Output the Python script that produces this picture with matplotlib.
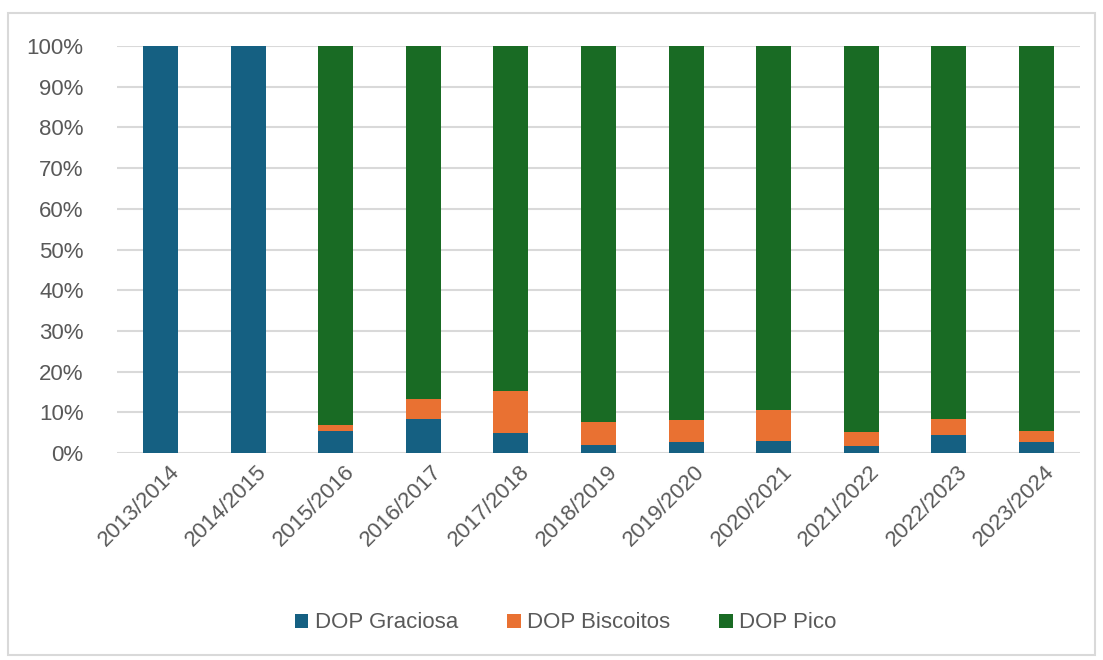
import numpy as np
import matplotlib
matplotlib.use('Agg')
import matplotlib.pyplot as plt
from matplotlib.patches import Rectangle
from matplotlib.ticker import FuncFormatter
from matplotlib.transforms import ScaledTranslation

seasons = ['2013/2014', '2014/2015', '2015/2016', '2016/2017', '2017/2018', '2018/2019',
           '2019/2020', '2020/2021', '2021/2022', '2022/2023', '2023/2024']
graciosa = [100.0, 100.0, 5.4, 8.3, 4.8, 1.9, 2.6, 2.9, 1.6, 4.4, 2.6]
biscoitos = [0.0, 0.0, 1.5, 5.0, 10.4, 5.7, 5.4, 7.6, 3.5, 3.9, 2.8]
pico = [0.0, 0.0, 93.1, 86.7, 84.8, 92.4, 92.0, 89.5, 94.9, 91.7, 94.6]

colors = ['#156082', '#E97132', '#196B24']
text_col = '#595959'

plt.rcParams['font.family'] = ['Liberation Sans', 'DejaVu Sans']

fig = plt.figure(figsize=(11.03, 6.60), dpi=100)
# light frame around the whole chart, like the Excel chart area
fig.patches.append(Rectangle((8 / 1103, 5 / 660), 1087 / 1103, 642 / 660, transform=fig.transFigure,
                             fill=False, edgecolor='#D9D9D9', linewidth=1.5))
ax = fig.add_axes([117 / 1103, 1 - 453 / 660, 963 / 1103, 407 / 660])

x = np.arange(len(seasons))
g = np.array(graciosa)
b = np.array(biscoitos)
p = np.array(pico)
w = 0.4
ax.bar(x, g, w, color=colors[0], label='DOP Graciosa', zorder=3)
ax.bar(x, b, w, bottom=g, color=colors[1], label='DOP Biscoitos', zorder=3)
ax.bar(x, p, w, bottom=g + b, color=colors[2], label='DOP Pico', zorder=3)

ax.set_xlim(-0.5, len(seasons) - 0.5)
ax.set_ylim(0, 100)
ax.set_yticks(np.arange(0, 101, 10))
ax.yaxis.set_major_formatter(FuncFormatter(lambda v, _: f'{v:.0f}%'))
ax.grid(axis='y', color='#D9D9D9', linewidth=1.5, zorder=0)
ax.set_xticks(x)
ax.set_xticklabels(seasons, rotation=45, ha='right', rotation_mode='anchor')
ax.tick_params(axis='both', length=0, labelsize=16, labelcolor=text_col)
ax.tick_params(axis='y', pad=24)
ax.tick_params(axis='x', pad=6)
# nudge rotated labels right so they end under the bar centre
for lbl in ax.get_xticklabels():
    lbl.set_transform(lbl.get_transform() + ScaledTranslation(8 / 100, 0, fig.dpi_scale_trans))
for s in ax.spines.values():
    s.set_visible(False)

fig.legend(loc='center', bbox_to_anchor=(0.513, 1 - 623 / 660), ncol=3, frameon=False,
           fontsize=16, labelcolor=text_col, handlelength=0.6, handleheight=0.6,
           handletextpad=0.3, columnspacing=2.2)

fig.savefig('out.png', dpi=100)
